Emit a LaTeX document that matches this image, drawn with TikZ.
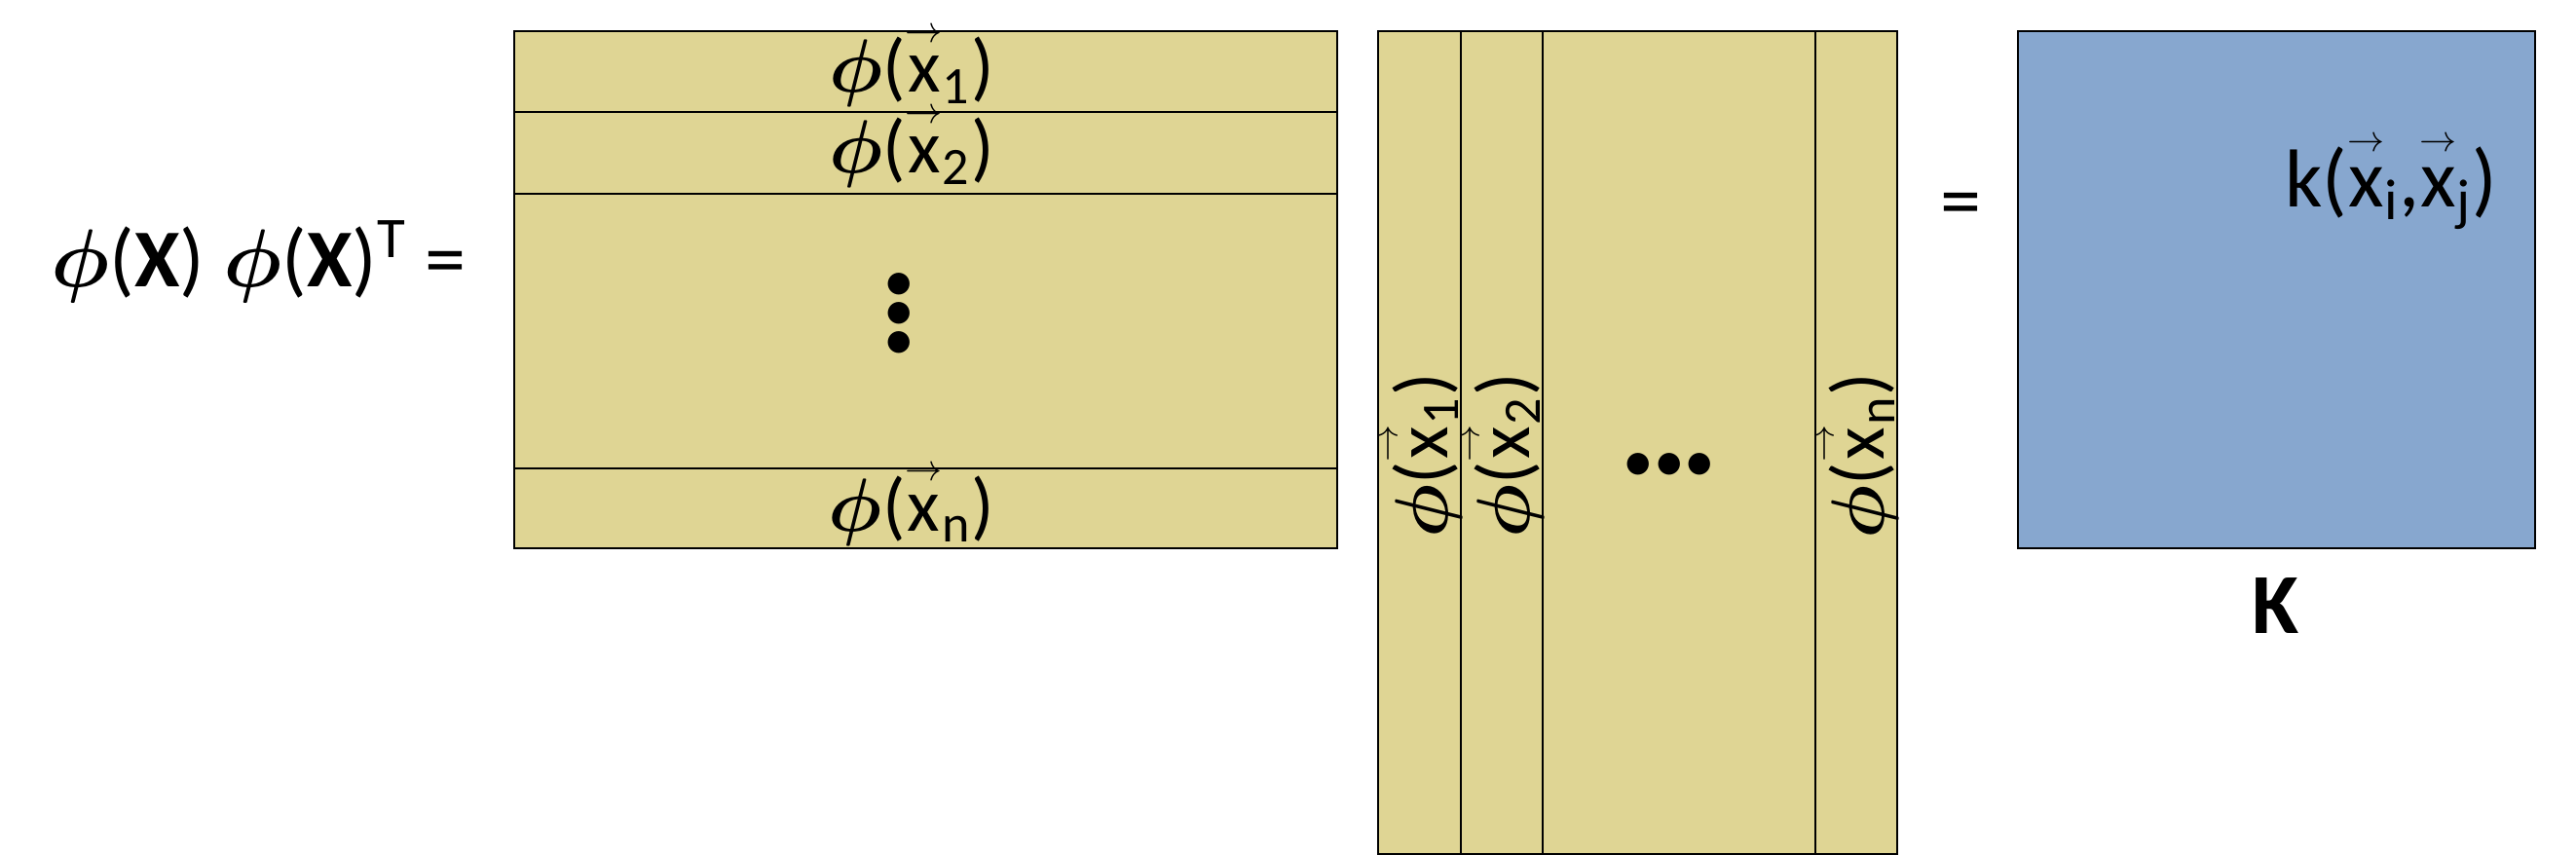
\documentclass[tikz,border=0pt]{standalone}
\usepackage{fix-cm}
\usepackage{amsmath}
\usepackage{graphicx}
\usepackage{fontspec}
\setmainfont{Carlito}
\usetikzlibrary{arrows,shapes}
\definecolor{featfill}{RGB}{223,213,148}
\definecolor{gramfill}{RGB}{135,167,207}
\tikzstyle{feature}=[draw=black,fill=featfill,line width=0.6pt,inner sep=0pt]
\tikzstyle{row box}=[feature,minimum width=8.45cm]
\tikzstyle{col box}=[feature,minimum height=8.45cm]
\tikzstyle{entry}=[inner sep=0pt,font=\fontsize{22}{26}\selectfont]
\tikzstyle{big entry}=[inner sep=0pt,font=\fontsize{24}{30}\selectfont]
\newcommand{\vx}[1]{\ensuremath{{\overset{\resizebox{0.38cm}{!}{$\rightarrow$}}{\text{x}}}_{\text{#1}}}}
\newcommand{\fx}[1]{$\boldsymbol{\phi}$(\vx{#1})}

\begin{document}
\begin{tikzpicture}
    \useasboundingbox (0,0) rectangle (26.45,8.77);
    % The rows of phi(X)
    \foreach \y/\h/\name in {8.035/0.83/r1, 7.20/0.84/r2, 5.37/2.82/rdots, 3.55/0.82/rn}
        \node[row box, minimum height=\h cm] (\name) at (9.505,\y) {};
    \foreach \y/\i/\name in {7.82/1/l1, 6.99/2/l2, 3.32/n/ln}
        \node[entry, anchor=base] (\name) at (9.36,\y) {\fx{\i}};
    \node[entry, font=\fontsize{18}{8.5}\selectfont, align=center] (vdots) at (9.23,5.52) {\textbullet\\\textbullet\\\textbullet};

    % The columns of phi(X)^T
    \foreach \x/\w/\name in {14.575/0.85/c1, 15.42/0.84/c2, 17.24/2.80/cdots, 19.06/0.84/cn}
        \node[col box, minimum width=\w cm] (\name) at (\x,4.225) {};
    \foreach \x/\i/\name in {14.86/1/m1, 15.70/2/m2, 19.34/n/mn}
        \node[entry, anchor=base, rotate=90] (\name) at (\x,4.09) {\fx{\i}};
    \node[entry, font=\fontsize{18}{20}\selectfont] (hdots) at (17.14,3.97) {\textbullet\textbullet\textbullet};

    % The kernel matrix
    \node[draw=black, fill=gramfill, line width=0.6pt, minimum size=5.31cm] (gram) at (23.375,5.795) {};
    \node[entry, font=\fontsize{24}{28}\selectfont, anchor=base east] (kij) at (25.65,6.64) {k(\vx{i},\vx{j})};
    \node[big entry, font=\fontsize{25}{30}\selectfont, anchor=base] (Klabel) at (23.36,2.27) {\textbf{K}};

    % Left hand side and equal signs
    \node[big entry, anchor=base west] (lhs) at (0.52,5.82) {$\boldsymbol{\phi}$(\textbf{X}) $\boldsymbol{\phi}$(\textbf{X})\textsuperscript{T} =};
    \node[big entry] (eq) at (20.13,6.61) {=};
\end{tikzpicture}
\end{document}
